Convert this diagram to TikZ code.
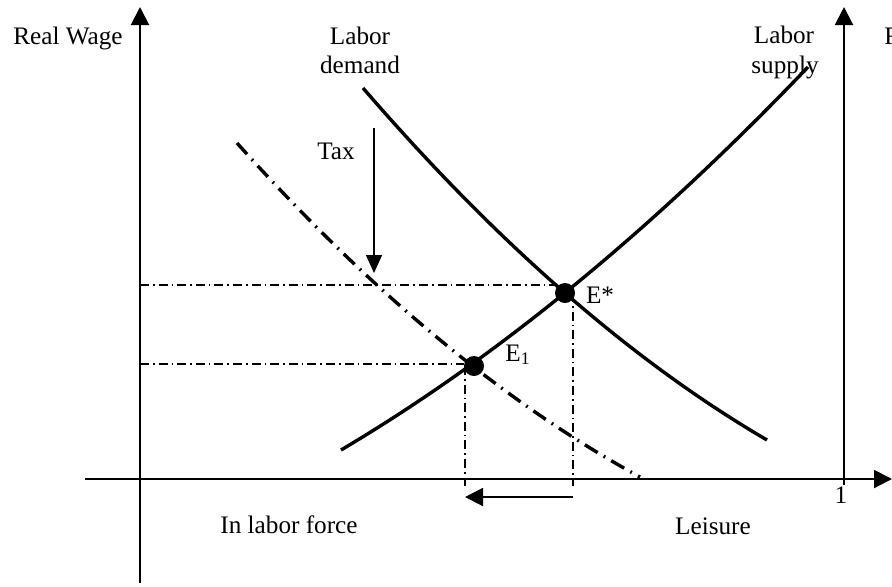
\documentclass[tikz,border=0pt]{standalone}
\usepackage{fontspec}
\setmainfont{Liberation Serif}
\usetikzlibrary{arrows.meta}
\begin{document}
\begin{tikzpicture}[x=0.5pt,y=-0.5pt,
  lbl/.style={inner sep=0pt,anchor=base,font=\fontsize{12.6}{14}\selectfont},
  axisline/.style={line width=1pt,-{Triangle[width=9pt,length=9pt]}},
  curve/.style={line width=1.7pt},
  dashcurve/.style={line width=1.7pt,dash pattern=on 7.5pt off 3.5pt on 0.9pt off 3.5pt},
  guide/.style={line width=0.7pt,dash pattern=on 4.5pt off 2pt on 0.8pt off 2pt},
  eqdot/.style={circle,fill=black,inner sep=0pt,minimum size=10pt}]
\useasboundingbox (0,0) rectangle (892,586);
% axes
\coordinate (ybot) at (140,583);
\coordinate (ytop) at (140,7);
\coordinate (xl) at (85,479);
\coordinate (xr) at (892,479);
\coordinate (rbot) at (844,485);
\coordinate (rtop) at (844,7);
\draw[axisline] (ybot) -- (ytop);
\draw[axisline] (xl) -- (xr);
\draw[axisline] (rbot) -- (rtop);
% labels
\node[lbl] (rw) at (68,44) {Real Wage};
\node[lbl,anchor=base west] (rw2) at (884,44) {Real Wage};
\node[lbl] (ld1) at (360,44) {Labor};
\node[lbl] (ld2) at (360,73) {demand};
\node[lbl] (ls1) at (784,43) {Labor};
\node[lbl] (ls2) at (785,73) {supply};
\node[lbl] (tax) at (336,159) {Tax};
\node[lbl] (one) at (841,503) {1};
\node[lbl] (inlf) at (289,533) {In labor force};
\node[lbl] (leis) at (713,534) {Leisure};
% equilibrium points
\node[eqdot] (estar) at (565,293) {};
\node[eqdot] (eone) at (474,366) {};
\node[lbl] (estarl) at (600,303) {E*};
\node[lbl,anchor=base west] (eonel) at (505,361) {E\textsubscript{1}};
% curve end points
\coordinate (d0) at (363,88);
\coordinate (d1) at (767,440);
\coordinate (s0) at (341,450);
\coordinate (s1) at (808,67);
\coordinate (t0) at (237,143);
\coordinate (t1) at (640,477);
% guide lines
\coordinate (h1) at (140,285);
\coordinate (h2) at (140,364);
\coordinate (v1b) at (465,486);
\coordinate (v2b) at (573,486);
\coordinate (v1t) at (465,366);
\coordinate (v2t) at (573,293);
\draw[guide] (h1) -- (estar.west |- h1);
\draw[guide] (h2) -- (eone.west |- h2);
\draw[guide] (v1t) -- (v1b);
\draw[guide] (v2t) -- (v2b);
% curves
\draw[curve] (d0) .. controls (497.7,244) and (632.3,361.3) .. (d1);
\draw[curve] (s0) .. controls (496.3,358) and (652,230.3) .. (s1);
\draw[dashcurve] (t0) .. controls (370.7,292.3) and (505.3,403.3) .. (t1);
% tax arrow
\coordinate (tax0) at (374,128);
\coordinate (tax1) at (374,273);
\draw[line width=0.7pt,-{Triangle[width=8pt,length=9pt]}] (tax0) -- (tax1);
% shift arrow
\coordinate (sh0) at (573,497);
\coordinate (sh1) at (465,497);
\draw[line width=1pt,-{Triangle[width=9pt,length=9pt]}] (sh0) -- (sh1);
\end{tikzpicture}
\end{document}
